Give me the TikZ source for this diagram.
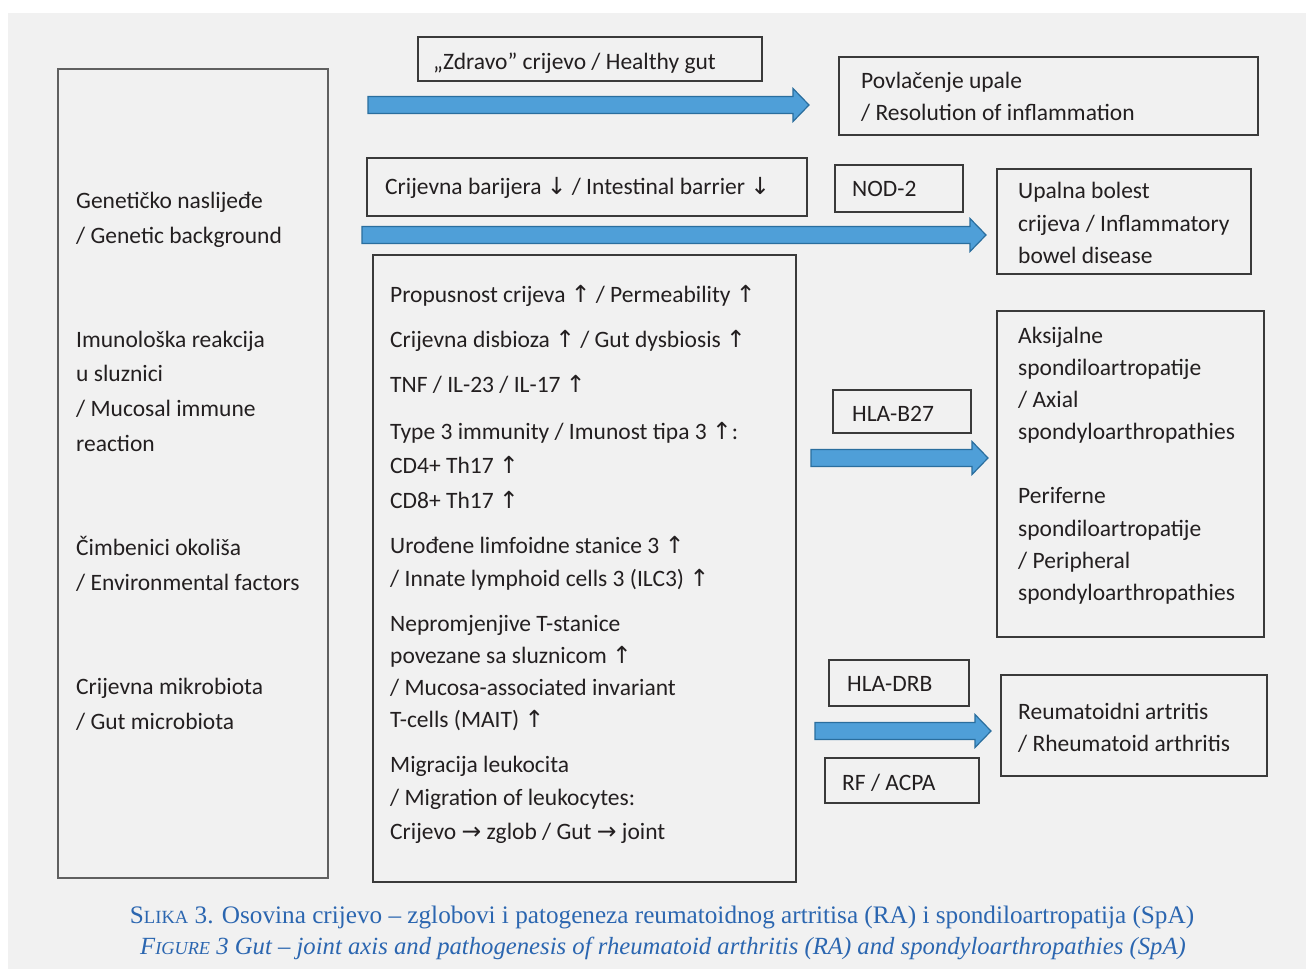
\documentclass[tikz,border=0pt]{standalone}
\usepackage{fontspec}
\setmainfont{Carlito}
\newfontfamily\capfont{Liberation Serif}
\newfontfamily\arrfont{DejaVu Sans}
\newcommand\UA{{\arrfont ↑}}
\newcommand\DA{{\arrfont ↓}}
\newcommand\RA{{\arrfont →}}
\definecolor{bg}{HTML}{F1F1F1}
\definecolor{txt}{HTML}{231F20}
\definecolor{bx}{HTML}{3A3A3A}
\definecolor{afill}{HTML}{4F9FD8}
\definecolor{aline}{HTML}{2A6E9E}
\definecolor{cap}{HTML}{2B66B0}
\tikzset{
  box/.style={draw=bx, line width=1.3pt},
  lbl/.style={anchor=base west, inner sep=0pt, yshift=-1pt, text=txt, font=\fontsize{23.5}{28}\selectfont},
  capt/.style={anchor=base, inner sep=0pt, text=cap},
  fat/.style={fill=afill, draw=aline, line width=1.2pt, line join=miter},
}
\newcommand\fatarrow[4]{% x0, x1 (head base), x2 (tip), yc
  \draw[fat] (#1,#4-8.5) -- (#2,#4-8.5) -- (#2,#4-16.5) -- (#3,#4) -- (#2,#4+16.5) -- (#2,#4+8.5) -- (#1,#4+8.5) -- cycle;}
\begin{document}
\begin{tikzpicture}[x=1pt,y=-1pt]
\useasboundingbox (0,0) rectangle (1306,969);
\fill[bg] (8,13) rectangle (1306,969);
% boxes
\draw[box, draw=gray!75!black] (58,69) rectangle (328,878);
\draw[box] (418,37) rectangle (762,81);
\draw[box] (839,57) rectangle (1258,135);
\draw[box] (367,158) rectangle (807,216);
\draw[box] (835,165) rectangle (963,212);
\draw[box] (997,169) rectangle (1251,274);
\draw[box] (373,255) rectangle (796,882);
\draw[box] (833,390) rectangle (971,433);
\draw[box] (997,311) rectangle (1264,637);
\draw[box] (829,660) rectangle (969,706);
\draw[box] (825,758) rectangle (979,803);
\draw[box] (1001,675) rectangle (1267,776);
% arrows
\fatarrow{368}{793}{809}{105}
\fatarrow{362}{970}{986}{235}
\fatarrow{811}{972}{988}{458}
\fatarrow{815}{975}{991}{731}
% left column
\node[lbl] (l1) at (76,207) {Genetičko naslijeđe};
\node[lbl] (l2) at (76,242) {/ Genetic background};
\node[lbl] (l3) at (76,346) {Imunološka reakcija};
\node[lbl] (l4) at (76,380) {u sluznici};
\node[lbl] (l5) at (76,415) {/ Mucosal immune};
\node[lbl] (l6) at (76,450) {reaction};
\node[lbl] (l7) at (76,554) {Čimbenici okoliša};
\node[lbl] (l8) at (76,589) {/ Environmental factors};
\node[lbl] (l9) at (76,693) {Crijevna mikrobiota};
\node[lbl] (l10) at (76,728) {/ Gut microbiota};
% top
\node[lbl] (t1) at (433,68) {„Zdravo” crijevo / Healthy gut};
\node[lbl] (t2) at (861,87) {Povlačenje upale};
\node[lbl] (t3) at (861,119) {/ Resolution of inflammation};
\node[lbl] (t4) at (385,193) {Crijevna barijera \DA{} / Intestinal barrier \DA};
\node[lbl] (t5) at (852,195) {NOD-2};
\node[lbl] (t6) at (1018,197) {Upalna bolest};
\node[lbl] (t7) at (1018,230) {crijeva / Inflammatory};
\node[lbl] (t8) at (1018,262) {bowel disease};
% middle
\node[lbl] (m1) at (390,301) {Propusnost crijeva \UA{} / Permeability \UA};
\node[lbl] (m2) at (390,346) {Crijevna disbioza \UA{} / Gut dysbiosis \UA};
\node[lbl] (m3) at (390,391) {TNF / IL-23 / IL-17 \UA};
\node[lbl] (m4) at (390,438) {Type 3 immunity / Imunost tipa 3 \UA:};
\node[lbl] (m5) at (390,472) {CD4+ Th17 \UA};
\node[lbl] (m6) at (390,507) {CD8+ Th17 \UA};
\node[lbl] (m7) at (390,552) {Urođene limfoidne stanice 3 \UA};
\node[lbl] (m8) at (390,585) {/ Innate lymphoid cells 3 (ILC3) \UA};
\node[lbl] (m9) at (390,630) {Nepromjenjive T-stanice};
\node[lbl] (m10) at (390,662) {povezane sa sluznicom \UA};
\node[lbl] (m11) at (390,694) {/ Mucosa-associated invariant};
\node[lbl] (m12) at (390,726) {T-cells (MAIT) \UA};
\node[lbl] (m13) at (390,771) {Migracija leukocita};
\node[lbl] (m14) at (390,804) {/ Migration of leukocytes:};
\node[lbl] (m15) at (390,838) {Crijevo \RA{} zglob / Gut \RA{} joint};
% right
\node[lbl] (h1) at (852,420) {HLA-B27};
\node[lbl] (s1) at (1018,342) {Aksijalne};
\node[lbl] (s2) at (1018,374) {spondiloartropatije};
\node[lbl] (s3) at (1018,406) {/ Axial};
\node[lbl] (s4) at (1018,438) {spondyloarthropathies};
\node[lbl] (s5) at (1018,502) {Periferne};
\node[lbl] (s6) at (1018,535) {spondiloartropatije};
\node[lbl] (s7) at (1018,567) {/ Peripheral};
\node[lbl] (s8) at (1018,599) {spondyloarthropathies};
\node[lbl] (h2) at (847,690) {HLA-DRB};
\node[lbl] (h3) at (842,789) {RF / ACPA};
\node[lbl] (r1) at (1018,718) {Reumatoidni artritis};
\node[lbl] (r2) at (1018,750) {/ Rheumatoid arthritis};
% caption
\node[capt, font=\capfont\fontsize{25.2}{28}\selectfont] (c1) at (662,923) {S{\fontsize{18.6}{20}\selectfont LIKA} 3. Osovina crijevo – zglobovi i patogeneza reumatoidnog artritisa (RA) i spondiloartropatija (SpA)};
\node[capt, font=\capfont\itshape\fontsize{24.7}{28}\selectfont] (c2) at (663,954) {F{\fontsize{18.3}{20}\selectfont IGURE} 3 Gut – joint axis and pathogenesis of rheumatoid arthritis (RA) and spondyloarthropathies (SpA)};
\end{tikzpicture}
\end{document}
